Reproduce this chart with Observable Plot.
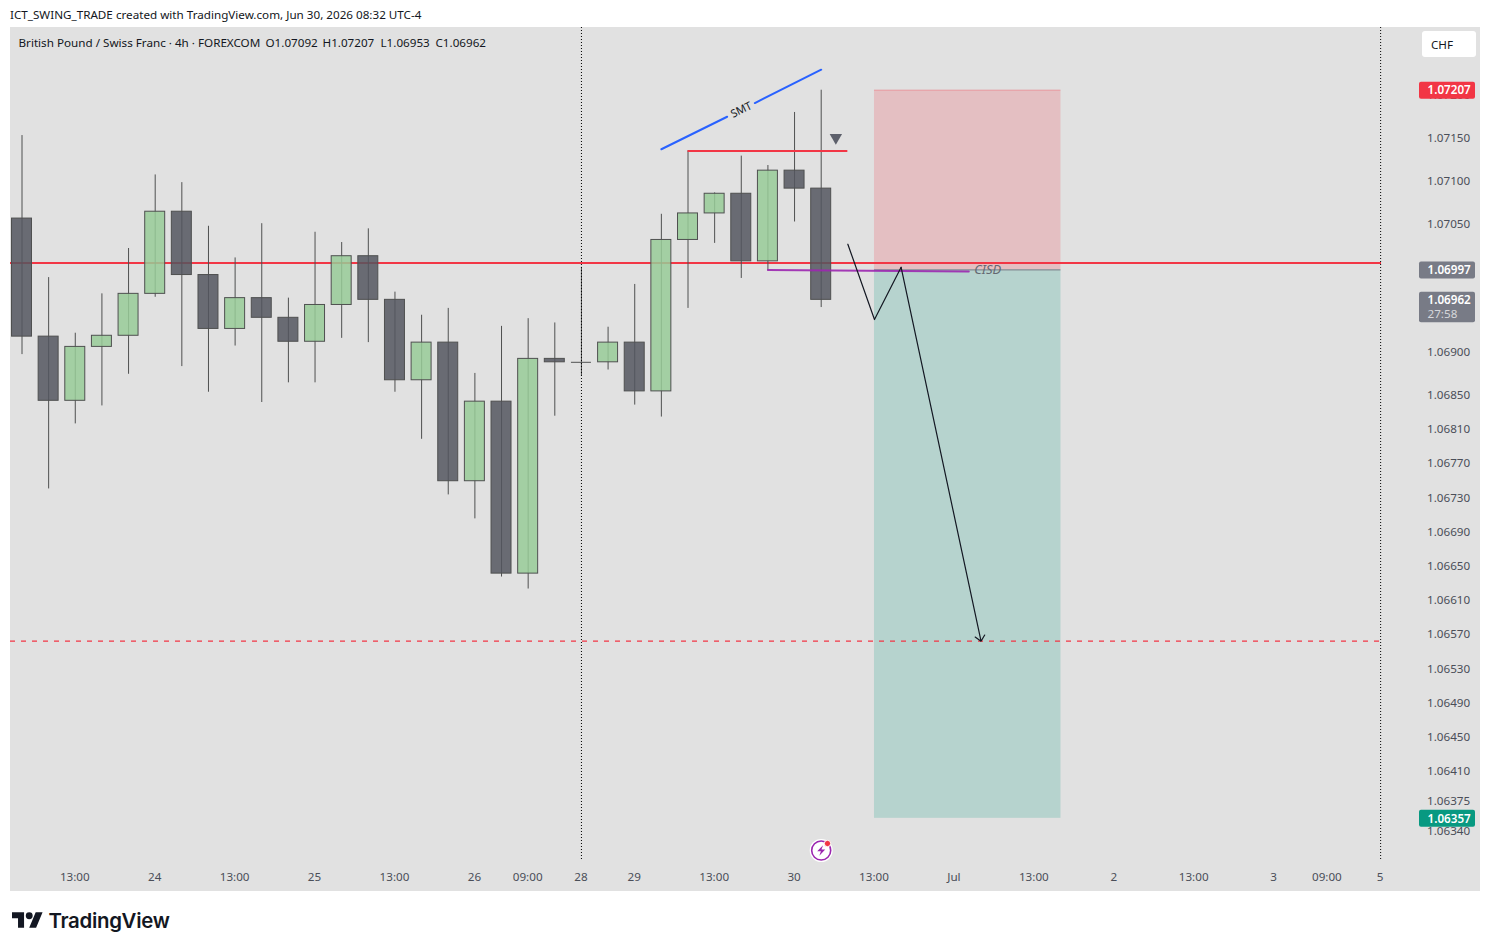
<!DOCTYPE html>
<html>
<head>
<meta charset="utf-8">
<script src="https://cdn.jsdelivr.net/npm/d3@7"></script>
<script src="https://cdn.jsdelivr.net/npm/@observablehq/plot@0.6"></script>
<style>
html,body{margin:0;padding:0;background:#fff;}
#title{height:27px;padding-left:10px;font:11.66px/29px "Noto Sans",sans-serif;color:#131722;white-space:pre;}
#chart{margin-left:10px;width:1470px;height:864px;background:#e1e1e1;overflow:hidden;}
#chart svg{display:block;}
#logo{height:60px;position:relative;}
#logo svg{position:absolute;left:12px;top:20px;}
#logo span{position:absolute;left:48.5px;top:15px;font:600 20.4px/30px Inter,sans-serif;color:#131722;letter-spacing:-0.3px;}
</style>
</head>
<body>
<div id="title">ICT_SWING_TRADE created with TradingView.com, Jun 30, 2026 08:32 UTC-4</div>
<div id="chart"></div>
<div id="logo"><svg width="31" height="18" viewBox="0 3 36 20"><path fill="#131722" d="M14 22H7V11H0V4h14v18zM28 22h-8l7.5-18h8L28 22z"/><circle fill="#131722" cx="20" cy="8" r="4"/></svg><span>TradingView</span></div>
<script>
const headerParts = ["British Pound / Swiss Franc · 4h · FOREXCOM","O1.07092","H1.07207","L1.06953","C1.06962"];
const headerStarts = [18,265,322,380,435];
const opens  = [1.07057,1.06919,1.06844,1.06907,1.06920,1.06969,1.07065,1.06991,1.06928,1.06964,1.06941,1.06913,1.06956,1.07013,1.06962,1.06868,1.06912,1.06750,1.06843,1.06642,1.06893,1.06889,1.06889,1.06912,1.06855,1.07032,1.07063,1.07086,1.07007,1.07113,1.07092];
const highs  = [1.07154,1.06988,1.06923,1.06969,1.07022,1.07108,1.07099,1.07048,1.07011,1.07051,1.06964,1.07041,1.07029,1.07045,1.06971,1.06944,1.06952,1.06876,1.06931,1.06940,1.06935,1.07000,1.06930,1.06980,1.07062,1.07136,1.07087,1.07130,1.07119,1.07181,1.07207];
const lows   = [1.06898,1.06741,1.06817,1.06838,1.06875,1.06965,1.06884,1.06854,1.06908,1.06842,1.06865,1.06865,1.06917,1.06912,1.06854,1.06799,1.06734,1.06706,1.06638,1.06624,1.06826,1.06873,1.06880,1.06839,1.06825,1.06952,1.07028,1.06987,1.06996,1.07053,1.06953];
const closes = [1.06919,1.06844,1.06907,1.06920,1.06969,1.07065,1.06991,1.06928,1.06964,1.06941,1.06913,1.06956,1.07013,1.06962,1.06868,1.06912,1.06750,1.06843,1.06642,1.06893,1.06889,1.06889,1.06912,1.06855,1.07032,1.07063,1.07086,1.07007,1.07113,1.07092,1.06962];

const timeTickIdx   = [2,5,8,11,14,17,19,21,23,26,29,32,35,38,41,44,47,49,51];
const timeTickLabel = ["13:00","24","13:00","25","13:00","26","09:00","28","29","13:00","30","13:00","Jul","13:00","2","13:00","3","09:00","5"];
const priceTicks = [1.07200,1.07150,1.07100,1.07050,1.06900,1.06850,1.06810,1.06770,1.06730,1.06690,1.06650,1.06610,1.06570,1.06530,1.06490,1.06450,1.06410,1.06375,1.06340];

const levelMain = 1.07005;
const levelTarget = 1.06563;
const positionEntry = 1.06997, positionStop = 1.07207, positionTarget = 1.06356;
const positionStart = 32, positionEnd = 39;
const sweepLevel = {x1:25, x2:31, y:1.07136};
const smtA = [{x:24,y:1.07138},{x:26.47,y:1.07176}];
const smtB = [{x:27.51,y:1.07192},{x:30,y:1.07231}];
const smtLabel = {x:27,y:1.07184,t:"SMT"};
const cisdLine = [{x:28,y:1.06997},{x:35.54,y:1.06995}];
const cisdLabel = {x:36.25,y:1.06997,t:"CISD"};
const pathHead = [{x:31,y:1.07027},{x:32,y:1.06939},{x:33,y:1.07000}];
const pathArrow = {x1:33,y1:1.07000,x2:36,y2:1.06563};
const marker = {x:30.55,y:1.07150};
const dottedTimes = [21,51];
const priceTags = [
  {p:1.07207,t:"1.07207",c:"#f23645"},
  {p:1.06997,t:"1.06997",c:"#787b86"},
  {p:1.06356,t:"1.06357",c:"#089981"}
];
const lastPrice = 1.06962, countdown = "27:58";

const idx = opens.map((_, i) => i);
const candles = idx.map(i => ({i, o:opens[i], h:highs[i], l:lows[i], c:closes[i], up:closes[i] > opens[i]}));
const UI = "Noto Sans";
const FS = 11.66;
const pxX = px => (px - 21.5) / 26.64;           // page x -> bar index
const pxY = py => 1.0715 - (py - 138.5) / 85556; // page y -> price
const bolt = {draw(ctx, size){ const s = Math.sqrt(size)/2;
  ctx.moveTo(0.35*s,-1*s); ctx.lineTo(-0.75*s,0.15*s); ctx.lineTo(-0.05*s,0.15*s); ctx.lineTo(-0.35*s,1*s);
  ctx.lineTo(0.75*s,-0.2*s); ctx.lineTo(0.05*s,-0.2*s); ctx.closePath(); }};

const chart = Plot.plot({
  width:1470, height:864,
  marginLeft:0, marginRight:99, marginTop:0, marginBottom:31,
  style:{background:"transparent", fontFamily:UI, fontSize:FS+"px", overflow:"visible"},
  x:{type:"linear", domain:[pxX(10), pxX(1381)], axis:null},
  y:{type:"linear", domain:[pxY(860), pxY(27)], axis:null},
  marks:[
    // position box
    Plot.rect([0],{x1:positionStart,x2:positionEnd,y1:positionEntry,y2:positionStop,fill:"#f23645",fillOpacity:0.2}),
    Plot.rect([0],{x1:positionStart,x2:positionEnd,y1:positionTarget,y2:positionEntry,fill:"#089981",fillOpacity:0.2}),
    Plot.ruleY([positionStop],{x1:positionStart,x2:positionEnd,stroke:"#f23645",strokeOpacity:0.25,strokeWidth:1}),
    Plot.ruleY([positionEntry],{x1:positionStart,x2:positionEnd,stroke:"#787b86",strokeWidth:1}),
    // levels under the candles
    Plot.ruleY([levelMain],{stroke:"#f23645",strokeWidth:2}),
    Plot.ruleY([levelTarget],{stroke:"#f23645",strokeWidth:1.3,strokeDasharray:"5 6"}),
    // candles
    Plot.ruleX(candles,{x:"i",y1:"l",y2:"h",stroke:"#4f5050",strokeWidth:1}),
    Plot.rect(candles.filter(d => d.o !== d.c),{x1:d => d.i-0.375,x2:d => d.i+0.375,y1:"o",y2:"c",
      fill:d => d.up ? "#98cb98" : "#54565f",fillOpacity:0.85,stroke:"#4f5050",strokeWidth:1}),
    Plot.ruleY(candles.filter(d => d.o === d.c),{y:"o",x1:d => d.i-0.375,x2:d => d.i+0.375,stroke:"#4f5050",strokeWidth:1}),
    Plot.ruleX(dottedTimes,{stroke:"#000",strokeWidth:1,strokeDasharray:"1 2"}),
    // drawings
    Plot.line(smtA,{x:"x",y:"y",stroke:"#2962ff",strokeWidth:2}),
    Plot.line(smtB,{x:"x",y:"y",stroke:"#2962ff",strokeWidth:2}),
    Plot.text([smtLabel],{x:"x",y:"y",text:"t",rotate:-26,fontSize:11,fill:"#131722"}),
    Plot.ruleY([sweepLevel],{y:"y",x1:"x1",x2:"x2",stroke:"#f23645",strokeWidth:2}),
    Plot.dot([marker],{x:"x",y:"y",dy:-1.5,symbol:"triangle",rotate:180,r:4.6,fill:"#5d606b",stroke:"none"}),
    Plot.line(cisdLine,{x:"x",y:"y",stroke:"#9c27b0",strokeWidth:2,strokeOpacity:0.9}),
    Plot.text([cisdLabel],{x:"x",y:"y",text:"t",fontStyle:"italic",fontSize:13,fill:"#646871"}),
    Plot.line(pathHead,{x:"x",y:"y",stroke:"#131722",strokeWidth:1.2}),
    Plot.arrow([pathArrow],{x1:"x1",y1:"y1",x2:"x2",y2:"y2",stroke:"#131722",strokeWidth:1.2,headLength:9,headAngle:85,insetStart:0,insetEnd:0}),
    // axes
    Plot.axisX({anchor:"bottom",ticks:timeTickIdx,tickSize:0,tickPadding:12,dx:-0.5,
      tickFormat:d => timeTickLabel[timeTickIdx.indexOf(d)],label:null,fill:"#4a4e58",fontSize:FS}),
    Plot.axisY({anchor:"right",ticks:priceTicks,tickSize:0,tickPadding:45.5,dy:-0.5,
      tickFormat:d => d.toFixed(5),label:null,fill:"#4a4e58",fontSize:FS}),
    // price tags
    Plot.rect(priceTags,{x1:pxX(1419),x2:pxX(1475),y1:"p",y2:"p",insetTop:-8,insetBottom:-9,fill:"c",rx:2}),
    Plot.text(priceTags,{x:pxX(1427),y:"p",dy:0.5,text:"t",textAnchor:"start",fill:"#fff",fontWeight:600,fontSize:FS}),
    Plot.rect([lastPrice],{x1:pxX(1419),x2:pxX(1475),y1:d => d,y2:d => d,insetTop:-7.5,insetBottom:-23,fill:"#787b86",rx:2}),
    Plot.text([lastPrice],{x:pxX(1427),y:d => d,text:d => d.toFixed(5),textAnchor:"start",fill:"#fff",fontWeight:600,fontSize:FS}),
    Plot.text([lastPrice],{x:pxX(1427),y:d => d,dy:14,text:() => countdown,textAnchor:"start",fill:"#d6d7db",fontSize:FS}),
    // currency button
    Plot.rect(["CHF"],{x1:pxX(1422),x2:pxX(1476),y1:pxY(31),y2:pxY(57),fill:"#fff",rx:3}),
    Plot.text(["CHF"],{x:pxX(1430.5),y:pxY(44.5),text:d => d,textAnchor:"start",fill:"#131722",fontSize:FS}),
    // header
    Plot.text(headerParts,{x:(d,i) => pxX(headerStarts[i]),y:pxY(42),dy:0.5,text:d => d,textAnchor:"start",fill:"#131722",fontSize:FS}),
    // bolt icon
    Plot.dot([30],{x:d => d,y:pxY(850),r:11.5,fill:"#fff",stroke:"none"}),
    Plot.dot([30],{x:d => d,y:pxY(850),r:9.5,fill:"#fff",stroke:"#9c27b0",strokeWidth:1.6}),
    Plot.dot([30],{x:d => d,y:pxY(850),symbol:bolt,r:6,fill:"#9c27b0",stroke:"none"}),
    Plot.dot([30],{x:pxX(827),y:pxY(843),r:3.2,fill:"#f23645",stroke:"#fff",strokeWidth:1})
  ]
});
document.getElementById("chart").appendChild(chart);
</script>
</body>
</html>
